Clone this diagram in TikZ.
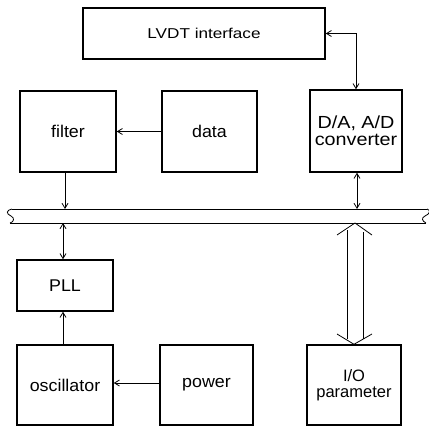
\documentclass[tikz,border=0pt]{standalone}
\usepackage{fontspec}
\setmainfont{Liberation Sans}
\usetikzlibrary{arrows.meta}
\tikzset{
  blk/.style={draw, line width=1.4pt, inner sep=0pt, align=center,
    font=\fontsize{17}{18}\selectfont\addfontfeatures{FakeStretch=1.05}},
  conn/.style={line width=0.8pt, -{Straight Barb[length=5pt,width=6pt]}},
  bconn/.style={line width=0.8pt, {Straight Barb[length=5pt,width=6pt]}-{Straight Barb[length=5pt,width=6pt]}},
  busline/.style={line width=1pt},
}
\begin{document}
\begin{tikzpicture}[x=1pt,y=-1pt]
\useasboundingbox (0,0) rectangle (429,428);
\node[blk, minimum width=242pt, minimum height=51pt,
  font=\fontsize{14.3}{16}\selectfont\addfontfeatures{FakeStretch=1.2}] (lvdt) at (204,33.5) {LVDT interface};
\node[blk, minimum width=96pt, minimum height=81pt] (filter) at (68,131.5) {filter};
\node[blk, minimum width=95pt, minimum height=81pt] (data) at (209.5,131.5) {data};
\node[blk, minimum width=92pt, minimum height=82pt,
  font=\fontsize{17.5}{17}\selectfont\addfontfeatures{FakeStretch=1.13}] (dad) at (356,131) {D/A, A/D\\converter};
\node[blk, minimum width=96pt, minimum height=51pt] (pll) at (65,285.5) {PLL};
\node[blk, minimum width=96pt, minimum height=80pt] (osc) at (65,385) {oscillator};
\node[blk, minimum width=93pt, minimum height=80pt] (power) at (206.5,385) {power};
\node[blk, minimum width=94pt, minimum height=80pt,
  font=\fontsize{16.5}{16}\selectfont] (io) at (354,385) {I/O\\parameter};
% bus
\coordinate (bTL) at (12,209);
\coordinate (bTR) at (427,209);
\coordinate (bBL) at (10,223);
\coordinate (bBR) at (426,223);
\draw[busline] (bTL) -- (bTR);
\draw[busline] (bBL) -- (bBR);
\draw[line width=0.8pt] (bTL) .. controls (6,210) and (6,214) .. (11,216)
   .. controls (15,218) and (14,222) .. (bBL);
\draw[line width=0.8pt] (bTR) .. controls (431,210) and (430,214) .. (425,216)
   .. controls (421,218) and (422,221) .. (bBR);
\coordinate (fb) at (65,209);
\coordinate (db) at (357,209);
\coordinate (pb) at (63,223);
\coordinate (ib) at (355,223);
% connectors
\draw[bconn] (lvdt.east) -| (dad.north);
\draw[conn] (data.west) -- (filter.east);
\draw[conn] (filter.south -| fb) -- (fb);
\draw[bconn] (dad.south -| db) -- (db);
\draw[bconn] (pb) -- (pll.north -| pb);
\draw[conn] (osc.north -| pb) -- (pll.south -| pb);
\draw[conn] (power.west |- 0,383) -- (osc.east |- 0,383);
% wide double arrow
\draw[line width=0.8pt] (337,235) -- (ib) -- (372,235);
\draw[line width=0.8pt] (347,230) -- (347,339);
\draw[line width=0.8pt] (363,232) -- (363,339);
\draw[line width=0.8pt] (337,334) -- (io.north) -- (372,334);
\end{tikzpicture}
\end{document}
